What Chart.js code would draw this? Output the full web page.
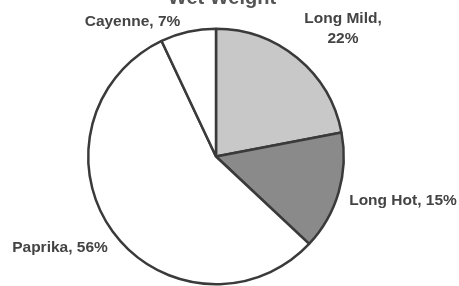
<!DOCTYPE html>
<html>
<head>
<meta charset="utf-8">
<script src="https://cdn.jsdelivr.net/npm/chart.js@4/dist/chart.umd.min.js"></script>
<style>
html,body{margin:0;padding:0;background:#fff;overflow:hidden;}
#wrap{position:relative;width:459px;height:290px;}
</style>
</head>
<body>
<div id="wrap"><canvas id="c"></canvas></div>
<script>
const chartTitle = "Wet Weight";
const categories = ["Long Mild", "Long Hot", "Paprika", "Cayenne"];
const shares = [22, 15, 56, 7];
const sliceColors = ["#c8c8c8", "#8a8a8a", "#ffffff", "#ffffff"];

// label text lines & anchor (relative to pie centre, in px)
const labelSpecs = [
  {lines: ["Long Mild,", "22%"], dx: 127, dy: -137.5},
  {lines: ["Long Hot, 15%"], dx: 187, dy: 44},
  {lines: ["Paprika, 56%"], dx: -156, dy: 91},
  {lines: ["Cayenne, 7%"], dx: -83.5, dy: -135}
];

const labelPlugin = {
  id: 'sliceLabels',
  afterDraw(chart) {
    const ctx = chart.ctx;
    const arc = chart.getDatasetMeta(0).data[0];
    const cx = arc.x, cy = arc.y;
    ctx.save();
    ctx.fillStyle = '#444';
    ctx.font = 'bold 15.5px "Liberation Sans", Arial, sans-serif';
    ctx.textAlign = 'center';
    ctx.textBaseline = 'middle';
    labelSpecs.forEach((s, i) => {
      s.lines.forEach((ln, j) => {
        const txt = s.lines.length === 1
          ? categories[i] + ', ' + shares[i] + '%'
          : ln;
        ctx.fillText(txt, cx + s.dx, cy + s.dy + j * 20);
      });
    });
    ctx.fillStyle = '#555';
    ctx.font = 'bold 20px "Liberation Sans", Arial, sans-serif';
    ctx.textBaseline = 'alphabetic';
    ctx.fillText(chartTitle, cx + 6, 4);
    ctx.restore();
  }
};

new Chart(document.getElementById('c'), {
  type: 'pie',
  data: {
    labels: categories,
    datasets: [{
      data: shares,
      backgroundColor: sliceColors,
      borderColor: '#3a3a3a',
      borderWidth: 2.5
    }]
  },
  options: {
    responsive: true,
    maintainAspectRatio: false,
    animation: false,
    layout: {padding: {left: 87, right: 114, top: 27.5, bottom: 4.5}},
    plugins: {legend: {display: false}, tooltip: {enabled: false}, title: {display: false}}
  },
  plugins: [labelPlugin]
});
</script>
</body>
</html>
